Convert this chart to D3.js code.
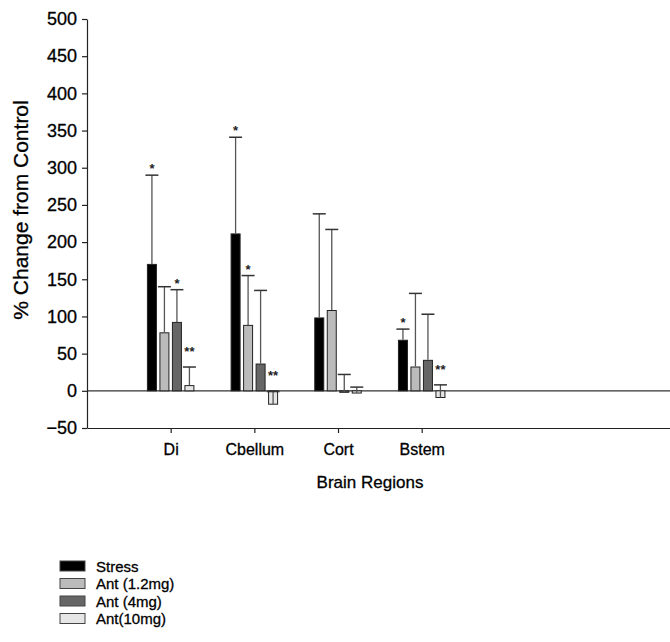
<!DOCTYPE html>
<html>
<head>
<meta charset="utf-8">
<script src="https://cdn.jsdelivr.net/npm/d3@7"></script>
<style>
  body { margin: 0; background: #fff; }
  svg { display: block; font-family: "Liberation Sans", Arial, sans-serif; }
  svg text { stroke: #000; stroke-width: 0.3px; }
</style>
</head>
<body>
<div id="chart"></div>
<script>
// ##### data #####
var categories = ["Di", "Cbellum", "Cort", "Bstem"];
var seriesNames = ["Stress", "Ant (1.2mg)", "Ant (4mg)", "Ant(10mg)"];
var stressVals = [170, 211, 98, 68];
var ant12Vals = [78, 88, 108, 32];
var ant4Vals = [92, 36, -2, 41];
var ant10Vals = [7, -18, -3, -9];
var stressErr = [120, 130, 140, 15];
var ant12Err = [62, 67, 109, 99];
var ant4Err = [44, 99, 24, 62];
var ant10Err = [25, 17, 8, 17];
var stressSig = ["*", "*", "", "*"];
var ant12Sig = ["", "*", "", ""];
var ant4Sig = ["*", "", "", ""];
var ant10Sig = ["**", "**", "", "**"];
var yTicks = [-50, 0, 50, 100, 150, 200, 250, 300, 350, 400, 450, 500];

var fills = ["#000000", "#bbbbbb", "#666666", "#e6e6e6"];

var series = [
  {name: seriesNames[0], vals: stressVals, err: stressErr, sig: stressSig},
  {name: seriesNames[1], vals: ant12Vals, err: ant12Err, sig: ant12Sig},
  {name: seriesNames[2], vals: ant4Vals, err: ant4Err, sig: ant4Sig},
  {name: seriesNames[3], vals: ant10Vals, err: ant10Err, sig: ant10Sig}
];

// ##### layout #####
var W = 670, H = 642;
var svg = d3.select("#chart").append("svg")
  .attr("width", W)
  .attr("height", H);

var x = d3.scaleLinear().domain([0, 7]).range([87, 672.7]);
var y = d3.scaleLinear().domain([-50, 500]).range([428, 19]);
var barW = 9, step = 12.5;

// zero line
svg.append("line")
  .attr("x1", x(0)).attr("x2", x(7))
  .attr("y1", y(0)).attr("y2", y(0))
  .attr("stroke", "#333").attr("stroke-width", 1.2);

// axes
var gy = svg.append("g")
  .attr("transform", "translate(" + x(0) + ",0)")
  .call(d3.axisLeft(y).tickValues(yTicks).tickSize(5).tickSizeOuter(0).tickPadding(5));

var gx = svg.append("g")
  .attr("transform", "translate(0," + y(-50) + ")")
  .call(d3.axisBottom(x).tickValues([1, 2, 3, 4])
    .tickFormat(function(d) { return categories[d - 1]; })
    .tickSize(5).tickSizeOuter(0).tickPadding(11));

[gy, gx].forEach(function(g) {
  g.selectAll(".domain").attr("stroke", "#222").attr("stroke-width", 1.2);
  g.selectAll(".tick line").attr("stroke", "#222").attr("stroke-width", 1.2);
  g.selectAll(".tick text").attr("fill", "#000")
    .style("font-family", "Liberation Sans, Arial, sans-serif");
});
gy.selectAll(".tick text").style("font-size", "18px");
gx.selectAll(".tick text").style("font-size", "16px");

// bars
var groups = svg.selectAll(".series")
  .data(series)
  .enter().append("g")
  .attr("class", "series");

groups.each(function(s, si) {
  var g = d3.select(this);
  var off = (si - 1.5) * step;
  var cx = function(i) { return x(i + 1) + off; };

  g.selectAll(".bar")
    .data(s.vals)
    .enter().append("rect")
    .attr("class", "bar")
    .attr("x", function(d, i) { return cx(i) - barW / 2; })
    .attr("y", function(d) { return y(Math.max(0, d)); })
    .attr("width", barW)
    .attr("height", function(d) { return Math.abs(y(d) - y(0)); })
    .attr("fill", fills[si])
    .attr("stroke", "#222").attr("stroke-width", 1);

  // error bars (drawn toward positive)
  g.selectAll(".err")
    .data(s.vals)
    .enter().append("line")
    .attr("class", "err")
    .attr("x1", function(d, i) { return cx(i); })
    .attr("x2", function(d, i) { return cx(i); })
    .attr("y1", function(d) { return d < 0 ? y(d) : y(d) - 0.5; })
    .attr("y2", function(d, i) { return y(d + s.err[i]); })
    .attr("stroke", "#555").attr("stroke-width", 1.3);

  g.selectAll(".cap")
    .data(s.vals)
    .enter().append("line")
    .attr("x1", function(d, i) { return cx(i) - 6.5; })
    .attr("x2", function(d, i) { return cx(i) + 6.5; })
    .attr("y1", function(d, i) { return y(d + s.err[i]); })
    .attr("y2", function(d, i) { return y(d + s.err[i]); })
    .attr("stroke", "#333").attr("stroke-width", 1.5);

  g.selectAll(".sig")
    .data(s.sig)
    .enter().append("text")
    .attr("x", function(d, i) { return cx(i); })
    .attr("y", function(d, i) {
      var top = y(Math.max(s.vals[i] + s.err[i], 0));
      return d == "**" ? top - 11 : top - 2;
    })
    .attr("text-anchor", "middle")
    .style("font-size", "13px")
    .style("font-weight", "bold")
    .style("stroke-width", "0px")
    .attr("fill", "#222")
    .text(function(d) { return d; });
});

// axis titles
svg.append("text")
  .attr("transform", "translate(28,210) rotate(-90)")
  .attr("text-anchor", "middle")
  .style("font-size", "21px")
  .attr("fill", "#000")
  .text("% Change from Control");

svg.append("text")
  .attr("x", 370).attr("y", 488)
  .attr("text-anchor", "middle")
  .style("font-size", "17px")
  .attr("fill", "#000")
  .text("Brain Regions");

// legend
var legend = svg.selectAll(".legend")
  .data(series)
  .enter().append("g")
  .attr("class", "legend")
  .attr("transform", function(d, i) { return "translate(60," + (561 + i * 17.5) + ")"; });

legend.append("rect")
  .attr("width", 25).attr("height", 10)
  .attr("fill", function(d, i) { return fills[i]; })
  .attr("stroke", "#444").attr("stroke-width", 1);

legend.append("text")
  .attr("x", 36).attr("y", 10.5)
  .style("font-size", "15px")
  .attr("fill", "#000")
  .text(function(d) { return d.name; });
</script>
</body>
</html>
